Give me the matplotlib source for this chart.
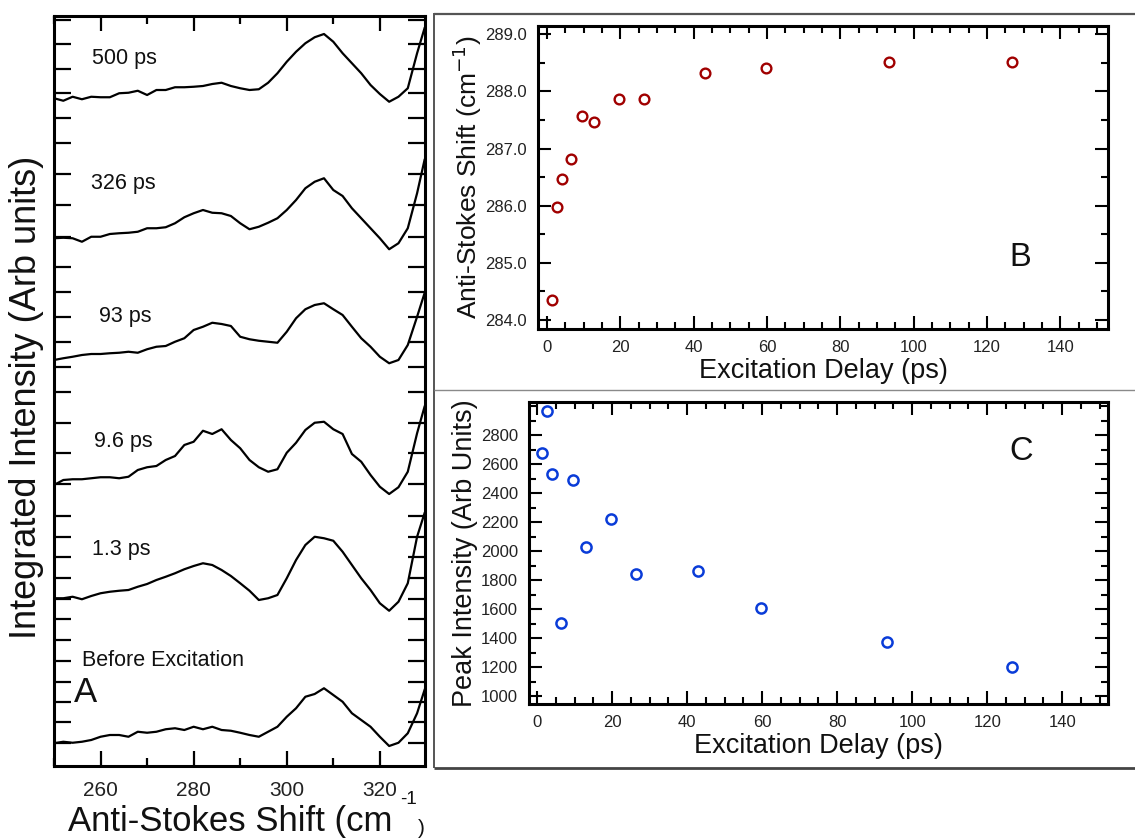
import matplotlib
matplotlib.use("Agg")
import matplotlib.pyplot as plt
from matplotlib.ticker import MultipleLocator, FormatStrFormatter
from matplotlib.lines import Line2D

plt.rcParams['font.family'] = ['Liberation Sans', 'DejaVu Sans']

# ---- panel A: spectra (offset, arbitrary units) ----
shift = [250, 252, 254, 256, 258, 260, 262, 264, 266, 268, 270, 272, 274, 276, 278,
         280, 282, 284, 286, 288, 290, 292, 294, 296, 298, 300, 302, 304, 306, 308,
         310, 312, 314, 316, 318, 320, 322, 324, 326, 328, 329.6]

spec_500 = [26.71, 26.61, 26.77, 26.67, 26.77, 26.75, 26.75, 26.91, 26.93, 27.01,
            26.84, 27.04, 27.04, 27.15, 27.15, 27.17, 27.20, 27.28, 27.33, 27.20,
            27.11, 27.04, 27.07, 27.33, 27.71, 28.17, 28.57, 28.91, 29.15, 29.28,
            28.97, 28.51, 28.11, 27.71, 27.24, 26.88, 26.57, 26.77, 27.11, 28.51, 29.51]
spec_326 = [21.11, 21.13, 21.11, 20.97, 21.17, 21.17, 21.28, 21.31, 21.33, 21.37,
            21.51, 21.51, 21.55, 21.71, 21.95, 22.11, 22.24, 22.13, 22.11, 22.00,
            21.71, 21.47, 21.57, 21.73, 21.91, 22.24, 22.64, 23.11, 23.37, 23.51,
            23.04, 22.80, 22.31, 21.91, 21.51, 21.11, 20.67, 20.91, 21.51, 22.91, 24.24]
spec_93 = [16.24, 16.31, 16.37, 16.44, 16.48, 16.48, 16.51, 16.53, 16.57, 16.53,
           16.67, 16.77, 16.80, 16.97, 17.11, 17.44, 17.57, 17.73, 17.68, 17.60,
           17.17, 17.07, 17.01, 16.97, 16.93, 17.37, 17.91, 18.27, 18.44, 18.51,
           18.27, 18.04, 17.57, 17.11, 16.77, 16.37, 16.11, 16.24, 16.84, 17.97, 18.91]
spec_9_6 = [11.24, 11.44, 11.47, 11.47, 11.51, 11.55, 11.55, 11.51, 11.57, 11.84,
            11.95, 12.00, 12.24, 12.40, 12.84, 12.97, 13.41, 13.28, 13.47, 13.04,
            12.71, 12.24, 11.95, 11.77, 11.87, 12.53, 12.93, 13.44, 13.73, 13.77,
            13.47, 13.28, 12.48, 12.17, 11.64, 11.17, 10.88, 11.15, 11.77, 13.31, 14.37]
spec_1_3 = [6.71, 6.71, 6.77, 6.67, 6.80, 6.91, 6.97, 7.01, 7.04, 7.17,
            7.28, 7.44, 7.57, 7.71, 7.87, 8.00, 8.11, 8.04, 7.84, 7.60,
            7.31, 7.01, 6.64, 6.71, 6.84, 7.51, 8.24, 8.84, 9.17, 9.11,
            9.01, 8.57, 8.04, 7.51, 7.04, 6.51, 6.21, 6.57, 7.31, 9.17, 10.11]
spec_before = [0.91, 0.97, 0.93, 0.97, 1.04, 1.17, 1.24, 1.24, 1.17, 1.37,
               1.33, 1.37, 1.47, 1.51, 1.44, 1.57, 1.47, 1.57, 1.44, 1.41,
               1.33, 1.24, 1.17, 1.37, 1.57, 1.97, 2.31, 2.77, 2.88, 3.11,
               2.84, 2.57, 2.11, 1.84, 1.57, 1.17, 0.80, 0.93, 1.31, 2.11, 3.04]

spectra = [spec_500, spec_326, spec_93, spec_9_6, spec_1_3, spec_before]
spec_labels = ["500 ps", "326 ps", "93 ps", "9.6 ps", "1.3 ps", "Before Excitation"]
label_x = [258.2, 258.0, 259.6, 258.6, 258.2, 256.1]
label_y = [28.31, 23.31, 17.97, 13.0, 8.64, 4.21]

# the original stitched panel has uneven tick spacing
a_yticks = [29.84, 28.87, 27.88, 26.91, 25.93, 24.93, 23.67, 22.44, 21.17, 19.95,
            18.95, 17.97, 16.97, 15.97, 14.97, 13.73, 12.51, 11.27, 10.0, 9.17,
            8.37, 7.51, 6.67, 5.87, 5.04, 4.21, 3.37, 2.57, 1.75, 0.91]

# ---- panels B and C ----
delay = [1.3, 2.6, 4.0, 6.4, 9.6, 12.9, 19.6, 26.4, 43.0, 59.8, 93.2, 126.7]
peak_shift = [284.35, 285.97, 286.47, 286.82, 287.57, 287.46, 287.87, 287.86,
              288.32, 288.41, 288.51, 288.52]
peak_intensity = [2678, 2968, 2531, 1506, 2492, 2026, 2223, 1844, 1864, 1607, 1372, 1202]
c_yticks = [1000, 1200, 1400, 1600, 1800, 2000, 2200, 2400, 2600, 2800]

W, H = 1135, 840
fig = plt.figure(figsize=(W / 100, H / 100), dpi=100)
txt = '#111111'


def px_axes(l, t, r, b):
    return fig.add_axes([l / W, 1 - b / H, (r - l) / W, (b - t) / H])


def fig_line(x0, y0, x1, y1, color, lw):
    fig.add_artist(Line2D([x0 / W, x1 / W], [1 - y0 / H, 1 - y1 / H],
                          color=color, lw=lw, solid_capstyle='butt'))


# panel frames
fig_line(434, 14, 1135, 14, '#555555', 1.6)
fig_line(434, 13, 434, 768, '#555555', 1.4)
fig_line(434, 389.5, 1135, 389.5, '#8a8a8a', 1.0)
fig_line(434, 767.5, 1135, 767.5, '#444444', 2.0)

# ---- A ----
ax_a = px_axes(54, 16, 425, 766)
for y in spectra:
    ax_a.plot(shift, y, color='black', lw=1.6)
ax_a.set_xlim(250, 329.7)
ax_a.set_ylim(0, 30)
ax_a.xaxis.set_major_locator(MultipleLocator(20))
ax_a.xaxis.set_minor_locator(MultipleLocator(10))
ax_a.set_yticks(a_yticks)
ax_a.tick_params(axis='x', which='major', direction='in', top=True, bottom=True,
                 length=11, width=1.6, labelsize=15, pad=11, labelcolor='#222222')
ax_a.tick_params(axis='x', which='minor', direction='in', top=True, bottom=True,
                 length=6, width=1.6)
ax_a.tick_params(axis='y', which='major', direction='in', left=True, right=True,
                 length=12, width=1.6, labelleft=False)
for s in ax_a.spines.values():
    s.set_linewidth(2.2)
for lab, x, y in zip(spec_labels, label_x, label_y):
    ax_a.text(x, y, lab, fontsize=15.5, color=txt, ha='left', va='center')
ax_a.text(254.2, 2.93, "A", fontsize=25, color=txt, ha='left', va='center')

fig.text(27 / W, 1 - 397 / H, "Integrated Intensity (Arb units)", rotation=90,
         fontsize=26, color=txt, ha='center', va='center')
fig.text(68 / W, 1 - 831.5 / H, "Anti-Stokes Shift (cm", fontsize=25, color=txt,
         ha='left', va='baseline')
fig.text(400 / W, 1 - 800 / H, "-1", fontsize=13.5, color=txt, ha='left', va='center')
fig.text(418 / W, 1 - 828 / H, ")", fontsize=15, color=txt, ha='left', va='center')

# ---- B ----
ax_b = px_axes(538, 26, 1108, 329)
ax_b.plot(delay, peak_shift, 'o', ms=7, mfc='none', mec='#a00000', mew=1.7)
ax_b.set_xlim(-2.5, 153)
ax_b.set_ylim(283.84, 289.145)
ax_b.xaxis.set_major_locator(MultipleLocator(20))
ax_b.xaxis.set_minor_locator(MultipleLocator(5))
ax_b.yaxis.set_major_locator(MultipleLocator(1.0))
ax_b.yaxis.set_minor_locator(MultipleLocator(0.5))
ax_b.yaxis.set_major_formatter(FormatStrFormatter('%.1f'))
ax_b.set_xlabel("Excitation Delay (ps)", fontsize=19.5, color=txt, labelpad=2)
ax_b.set_ylabel("Anti-Stokes Shift (cm$^{-1}$)", fontsize=19, color=txt, labelpad=1)
ax_b.text(129.1, 285.1, "B", fontsize=23.5, color=txt, ha='center', va='center')

# ---- C ----
ax_c = px_axes(529, 401.7, 1108.3, 704.3)
ax_c.plot(delay, peak_intensity, 'o', ms=7.3, mfc='none', mec='#0a3cd8', mew=1.8)
ax_c.set_xlim(-2.2, 152.3)
ax_c.set_ylim(943, 3030)
ax_c.xaxis.set_major_locator(MultipleLocator(20))
ax_c.xaxis.set_minor_locator(MultipleLocator(5))
ax_c.set_yticks(c_yticks)
ax_c.yaxis.set_minor_locator(MultipleLocator(100))
ax_c.set_xlabel("Excitation Delay (ps)", fontsize=19.5, color=txt, labelpad=2)
ax_c.set_ylabel("Peak Intensity (Arb Units)", fontsize=19.5, color=txt, labelpad=2)
ax_c.text(129.2, 2685, "C", fontsize=23.5, color=txt, ha='center', va='center')

for ax in (ax_b, ax_c):
    ax.tick_params(which='both', direction='in', top=True, right=True,
                   labelsize=12, pad=8, labelcolor='#222222', width=1.5)
    ax.tick_params(which='major', length=9.5)
    ax.tick_params(which='minor', length=5)
    for s in ax.spines.values():
        s.set_linewidth(2.2)

fig.savefig("out.png", dpi=100)
